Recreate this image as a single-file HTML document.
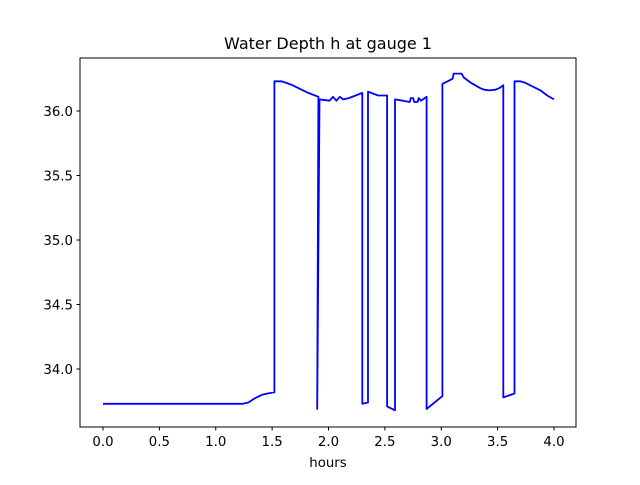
<!DOCTYPE html>
<html><head><meta charset="utf-8"><style>body{margin:0;background:#fff}svg text{font-family:"DejaVu Sans","Liberation Sans",sans-serif;fill:#000}</style></head>
<body>
<svg id="chart" width="640" height="480" xmlns="http://www.w3.org/2000/svg">
<text x="328" y="49" font-size="16" text-anchor="middle">Water Depth h at gauge 1</text>
<text x="328" y="467" font-size="13.3" text-anchor="middle">hours</text>
<g id="ticks"></g>
<path id="line" fill="none" stroke="#0000ff" stroke-width="1.8" stroke-linejoin="round"/>
<rect x="80" y="58" width="496" height="369" fill="none" stroke="#000" stroke-width="1"/>
</svg>
<script>
const hours=[0,1.24,1.29,1.34,1.41,1.46,1.52,1.52,1.58,1.62,1.68,1.75,1.82,1.91,1.90,1.92,2.01,2.04,2.07,2.10,2.13,2.18,2.24,2.30,2.30,2.35,2.35,2.44,2.52,2.52,2.59,2.59,2.66,2.72,2.73,2.75,2.76,2.79,2.80,2.82,2.87,2.87,3.01,3.01,3.10,3.11,3.18,3.20,3.26,3.30,3.34,3.38,3.43,3.48,3.52,3.55,3.55,3.65,3.65,3.70,3.74,3.81,3.88,3.94,4.0];
const depth=[33.73,33.73,33.74,33.77,33.80,33.81,33.82,36.23,36.23,36.22,36.20,36.17,36.14,36.11,33.69,36.09,36.08,36.11,36.08,36.11,36.09,36.10,36.12,36.14,33.73,33.74,36.15,36.12,36.12,33.71,33.68,36.09,36.08,36.07,36.10,36.10,36.07,36.07,36.10,36.08,36.11,33.69,33.79,36.21,36.25,36.29,36.29,36.26,36.22,36.20,36.18,36.165,36.16,36.165,36.18,36.20,33.78,33.81,36.23,36.23,36.22,36.19,36.16,36.12,36.09];
const xTicks=[0,0.5,1,1.5,2,2.5,3,3.5,4];
const yTicks=[34,34.5,35,35.5,36];
const X=t=>103+t*112.75, Y=v=>111+(36-v)*129;
const NS="http://www.w3.org/2000/svg";
document.getElementById('line').setAttribute('d',hours.map((t,i)=>(i?'L':'M')+X(t).toFixed(1)+','+Y(depth[i]).toFixed(1)).join(''));
const g=document.getElementById('ticks');
function mk(tag,a){const e=document.createElementNS(NS,tag);for(const k in a)e.setAttribute(k,a[k]);g.appendChild(e);return e;}
xTicks.forEach(t=>{
 const l=mk('line',{x1:X(t),x2:X(t),y1:427,y2:430.5,stroke:'#000'});
 
 
 const tx=mk('text',{x:X(t),y:446,'font-size':13.3,'text-anchor':'middle'});tx.textContent=t.toFixed(1);
 
 
});
yTicks.forEach(v=>{
 const l=mk('line',{x1:76.5,x2:80,y1:Y(v),y2:Y(v),stroke:'#000'});
 
 
 const tx=mk('text',{x:73,y:Y(v)+5,'font-size':13.3,'text-anchor':'end'});tx.textContent=v.toFixed(1);
 
 
});
</script>
</body></html>
